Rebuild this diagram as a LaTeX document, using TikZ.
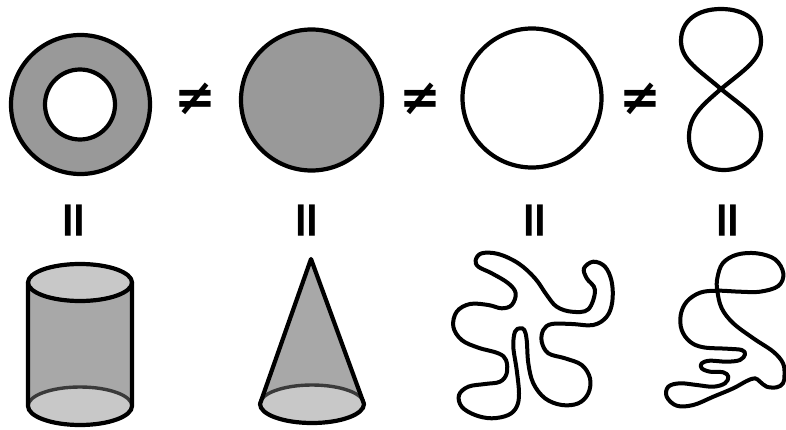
\documentclass[tikz,border=0pt]{standalone}
\usepackage{fontspec}
\newfontfamily\symfont{DejaVu Sans Bold}
\definecolor{darkfill}{HTML}{999999}
\definecolor{sidefill}{HTML}{A8A8A8}
\definecolor{capfill}{HTML}{C8C8C8}
\definecolor{backline}{HTML}{3A3A3A}
\tikzset{
  outline/.style={line width=4.2pt, black, line join=round},
  backarc/.style={line width=3.4pt, backline},
  wiggle/.style={line width=4pt, black, line join=round},
  sym/.style={font=\symfont\fontsize{50}{50}\selectfont, inner sep=0pt}
}
\begin{document}
\begin{tikzpicture}[x=1pt,y=1pt,yscale=-1]
\useasboundingbox (0,0) rectangle (786,430);

% ring
\fill[darkfill, even odd rule] (80.5,104.5) circle[radius=69.5] (80,104.5) circle[radius=35];
\draw[outline] (80.5,104.5) circle[radius=69.5];
\draw[outline] (80,104.5) circle[radius=35];

% disk
\draw[outline, fill=darkfill] (311.5,100) circle[radius=70.5];

% circle
\draw[outline] (532,98) circle[radius=69.5];

% figure eight
\draw[outline] (721,89) .. controls (744,70) and (761,60) .. (761,41)
  .. controls (761,20) and (744,9) .. (721,9)
  .. controls (697,9) and (681,21) .. (681,41)
  .. controls (681,60) and (699,70) .. (721,89)
  .. controls (744,108) and (761,117) .. (761,135)
  .. controls (761,157) and (744,170) .. (724,170)
  .. controls (703,170) and (689,157) .. (689,137)
  .. controls (689,117) and (700,107) .. (721,89) -- cycle;

% not-equal signs
\node[sym] (ne1) at (195.5,99) {≠};
\node[sym] (ne2) at (420.5,99) {≠};
\node[sym] (ne3) at (640.5,99) {≠};

% vertical equal signs
\node[sym, rotate=90] (eq1) at (77.5,221) {=};
\node[sym, rotate=90] (eq2) at (310,221) {=};
\node[sym, rotate=90] (eq3) at (538,221) {=};
\node[sym, rotate=90] (eq4) at (731,221) {=};

% cylinder
\fill[sidefill] (28,282.5) -- (28,406) arc[start angle=180, end angle=0, x radius=52, y radius=19] -- (132,282.5) -- cycle;
\fill[capfill] (80,406) ellipse[x radius=52, y radius=19];
\draw[backarc] (28,406) arc[start angle=180, end angle=360, x radius=52, y radius=19];
\draw[outline] (28,282.5) -- (28,406) arc[start angle=180, end angle=0, x radius=52, y radius=19] -- (132,282.5);
\draw[outline, fill=capfill] (80,282.5) ellipse[x radius=52, y radius=18.5];

% cone
\fill[sidefill] (311,259) -- (260,404) arc[start angle=180, end angle=0, x radius=52, y radius=19] -- cycle;
\fill[capfill] (312,404) ellipse[x radius=52, y radius=19];
\draw[backarc] (260,404) arc[start angle=180, end angle=360, x radius=52, y radius=19];
\draw[outline] (311,259) -- (260,404) arc[start angle=180, end angle=0, x radius=52, y radius=19] -- cycle;

% wiggly curve 1
\draw[wiggle] plot[smooth cycle, tension=0.6] coordinates {
 (475.7,260) (481.7,253.3) (498.3,254) (518.3,263.3) (535,278.3) (546.7,295)
 (556.7,306.7) (571.7,311.7) (588.3,309.3) (595,290) (586.7,278.3) (584,268.3)
 (593.3,261.7) (605,266.7) (611.7,281.7) (612.3,301.7) (606.7,316.7) (593.3,325)
 (571.7,324) (551.7,324) (543.3,330) (541.7,341.7) (548.3,353.3) (565,358.3)
 (581.7,365) (590,378.3) (588.3,393.3) (578.3,403.3) (561.7,405) (545,398.3)
 (533.3,383.3) (528.3,363.3) (526.7,340) (524.3,330) (520,328.3) (515,331.7)
 (513.3,346.7) (516.7,370) (519,393.3) (516.7,406.7) (508.3,415) (491.7,418.3)
 (475,415) (461.7,406.7) (459,395) (468.3,386.7) (485,384) (500,381.7)
 (506.7,373.3) (506,360) (498.3,353.3) (478.3,347.7) (461.7,340) (453.3,326.7)
 (456.7,311.7) (470,304) (488.3,305) (501.7,308.3) (511.7,305) (515.7,293.3)
 (508.3,283.3) (491.7,273.3) (478.3,266.7)};

% wiggly curve 2
\draw[wiggle] plot[smooth cycle, tension=0.6] coordinates {
 (717.3,290.7) (740,291.7) (760,291.7) (778.3,286) (783.3,273.3) (775,259.3)
 (756.7,253.3) (736.7,254.7) (722.7,263.3) (717.3,278.3) (717.3,290.7)
 (721.7,308.3) (733.3,323.3) (753.3,338.3) (773.3,351.7) (783,363.3) (784.5,375)
 (783,383.3) (776.7,387.3) (766.7,386.7) (760,381.7) (755,378.3) (746.7,381)
 (733.3,388.3) (713.3,396.7) (693.3,405) (676.7,405.7) (666.7,396.7) (668.3,386.7)
 (680,383.3) (696.7,385) (713.3,386.7) (725,383.3) (728.3,376.7) (723.3,372.3)
 (710,371.7) (701.7,368.3) (701.7,363.3) (710,360.7) (726.7,361.7) (740,360)
 (745,354.3) (741.7,350) (726.7,348.7) (703.3,347.3) (690,341.7) (681.7,330)
 (680.7,315) (686.7,301.7) (700,292.7)};
\end{tikzpicture}
\end{document}
